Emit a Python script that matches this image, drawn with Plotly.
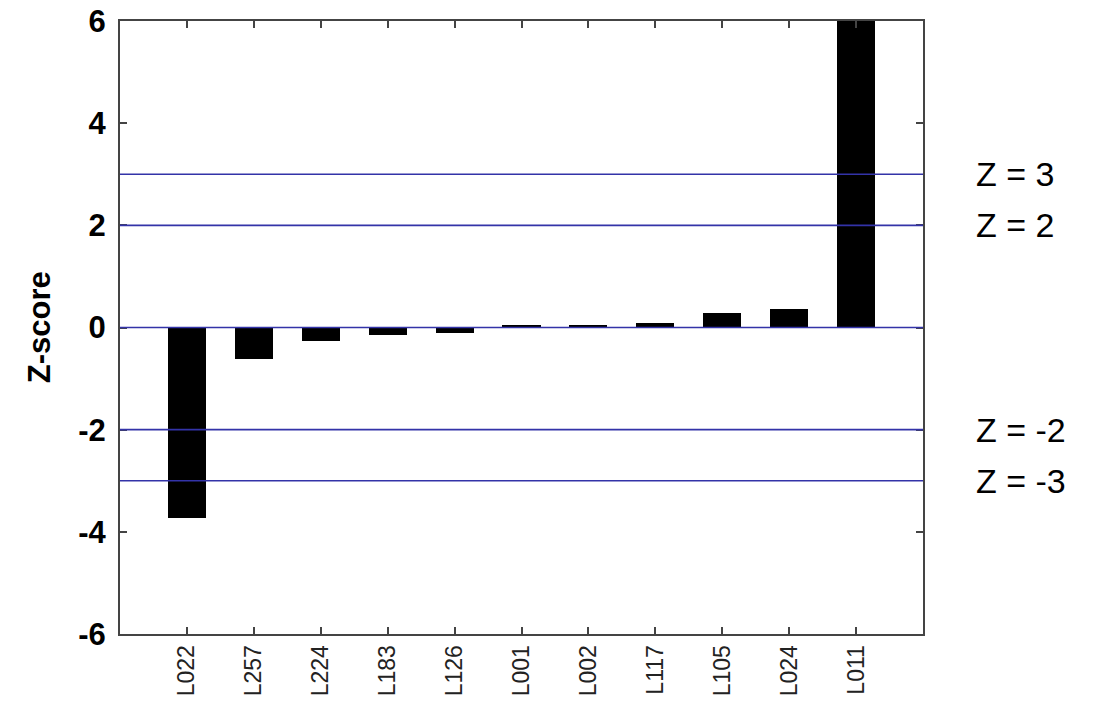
import plotly.graph_objects as go

labs = ["L022", "L257", "L224", "L183", "L126", "L001", "L002", "L117", "L105", "L024", "L011"]
zscores = [-3.72, -0.62, -0.27, -0.15, -0.10, 0.04, 0.05, 0.08, 0.28, 0.36, 6.8]
ref_levels = [3, 2, 0, -2, -3]
ref_labels = {3: "Z = 3", 2: "Z = 2", -2: "Z = -2", -3: "Z = -3"}
ytick_vals = [-6, -4, -2, 0, 2, 4, 6]

fig = go.Figure()
fig.add_trace(go.Bar(x=labs, y=zscores, marker=dict(color="black", line=dict(width=0)), width=0.57))

shapes = []
for lv in ref_levels:
    shapes.append(dict(type="line", xref="paper", x0=0, x1=1, yref="y", y0=lv, y1=lv,
                       line=dict(color="#3333a8", width=1.6), layer="above"))

annotations = []
for lv, t in ref_labels.items():
    annotations.append(dict(x=1.063, xref="paper", y=lv, yref="y", text=t, showarrow=False,
                            xanchor="left", yanchor="middle",
                            font=dict(family="Liberation Sans, Arial", size=34, color="black")))
annotations.append(dict(x=-0.10, xref="paper", y=0.5, yref="paper", text="Z-score", showarrow=False,
                        textangle=-90, xanchor="center", yanchor="middle",
                        font=dict(family="Liberation Sans, Arial", size=31, color="black", weight="bold")))

fig.update_layout(
    width=1096, height=703,
    margin=dict(l=120, r=173, t=21, b=69, autoexpand=False),
    paper_bgcolor="white", plot_bgcolor="white",
    showlegend=False,
    shapes=shapes, annotations=annotations,
    bargap=0,
)
fig.update_xaxes(
    type="category", range=[-1, 11], automargin=False, ticklabeloverflow="allow",
    showline=True, linecolor="#444", linewidth=2, mirror="ticks",
    ticks="inside", ticklen=7, tickwidth=1.5, tickcolor="#444",
    tickangle=-90, tickfont=dict(family="Liberation Sans, Arial", size=23, color="#222"),
    showgrid=False, zeroline=False,
)
fig.update_yaxes(
    range=[-6, 6], tickvals=ytick_vals, ticktext=[str(v) for v in ytick_vals], automargin=False,
    ticklabeloverflow="allow", ticklabelstandoff=6,
    showline=True, linecolor="#444", linewidth=2, mirror="ticks",
    ticks="inside", ticklen=7, tickwidth=1.5, tickcolor="#444",
    tickfont=dict(family="Liberation Sans, Arial", size=31, color="black", weight="bold"),
    showgrid=False, zeroline=False,
)

fig.write_html("out.html", config={"displayModeBar": False},
               post_script="document.body.style.margin='0';document.body.style.overflow='hidden';")
